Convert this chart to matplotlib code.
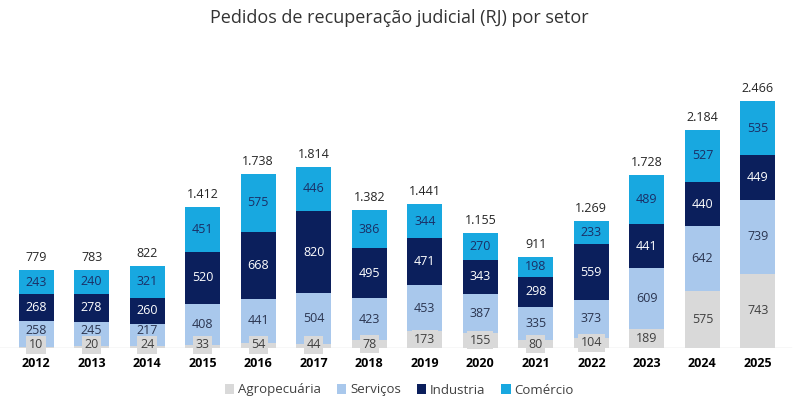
import matplotlib
matplotlib.use("Agg")
import matplotlib.pyplot as plt
from matplotlib.patches import Patch
import numpy as np

plt.rcParams['font.family'] = ['Open Sans', 'DejaVu Sans']

years = ['2012', '2013', '2014', '2015', '2016', '2017', '2018', '2019', '2020', '2021', '2022', '2023', '2024', '2025']
agro = [10, 20, 24, 33, 54, 44, 78, 173, 155, 80, 104, 189, 575, 743]
servicos = [258, 245, 217, 408, 441, 504, 423, 453, 387, 335, 373, 609, 642, 739]
industria = [268, 278, 260, 520, 668, 820, 495, 471, 343, 298, 559, 441, 440, 449]
comercio = [243, 240, 321, 451, 575, 446, 386, 344, 270, 198, 233, 489, 527, 535]
totals = ['779', '783', '822', '1.412', '1.738', '1.814', '1.382', '1.441', '1.155', '911', '1.269', '1.728', '2.184', '2.466']

series = [
    ('Agropecuária', agro, '#d9d9d9', '#404040'),
    ('Serviços', servicos, '#a9c8ec', '#2b3550'),
    ('Industria', industria, '#0b1f5c', '#ffffff'),
    ('Comércio', comercio, '#18a8e0', '#1b2f66'),
]

fig = plt.figure(figsize=(7.99, 4.09), dpi=100)
ax = fig.add_axes([0, 61/409, 1, 288/409])
x = np.arange(len(years))
w = 0.63
bottom = np.zeros(len(years))
for name, vals, col, tcol in series:
    vals = np.array(vals, dtype=float)
    ax.bar(x, vals, w, bottom=bottom, color=col, label=name, zorder=2)
    for i, v in enumerate(vals):
        if name == 'Agropecuária':
            yc = max(v / 2, 30)
            ax.text(x[i], yc, f'{int(v)}', ha='center', va='center', fontsize=9, color=tcol, zorder=4,
                    bbox=dict(boxstyle='square,pad=0.2', fc='#d9d9d9', ec='none'))
        elif name == 'Serviços':
            yc = max(bottom[i] + v / 2, 175)
            ax.text(x[i], yc, f'{int(v)}', ha='center', va='center', fontsize=9, color=tcol, zorder=4)
        else:
            ax.text(x[i], bottom[i] + v / 2, f'{int(v)}', ha='center', va='center', fontsize=9, color=tcol, zorder=4)
    bottom += vals

for i, t in enumerate(totals):
    ax.text(x[i], bottom[i] + 60, t, ha='center', va='bottom', fontsize=9, color='#262626')

ax.set_xlim(-0.65, 13.74)
ax.set_ylim(0, 2880)
ax.axhline(0, xmin=0, xmax=0.99, color='#d9d9d9', lw=1, zorder=3)
for s in ax.spines.values():
    s.set_visible(False)
ax.set_yticks([])
ax.set_xticks(x)
ax.set_xticklabels(years, fontsize=9, fontweight='bold', color='#000000')
ax.tick_params(axis='x', length=0, pad=6.5)

fig.text(0.5, 1 - 18/409, 'Pedidos de recuperação judicial (RJ) por setor', ha='center', va='center',
         fontsize=13, color='#333333')

handles = [Patch(facecolor=c, edgecolor='none', label=n) for n, _, c, _ in series]
fig.legend(handles=handles, loc='center', bbox_to_anchor=(0.5, 1 - 390/409), ncol=4, frameon=False,
           fontsize=9.5, handlelength=0.7, handleheight=0.7, handletextpad=0.3, columnspacing=1.2,
           labelcolor='#404040')

fig.savefig('out.png', dpi=100)
